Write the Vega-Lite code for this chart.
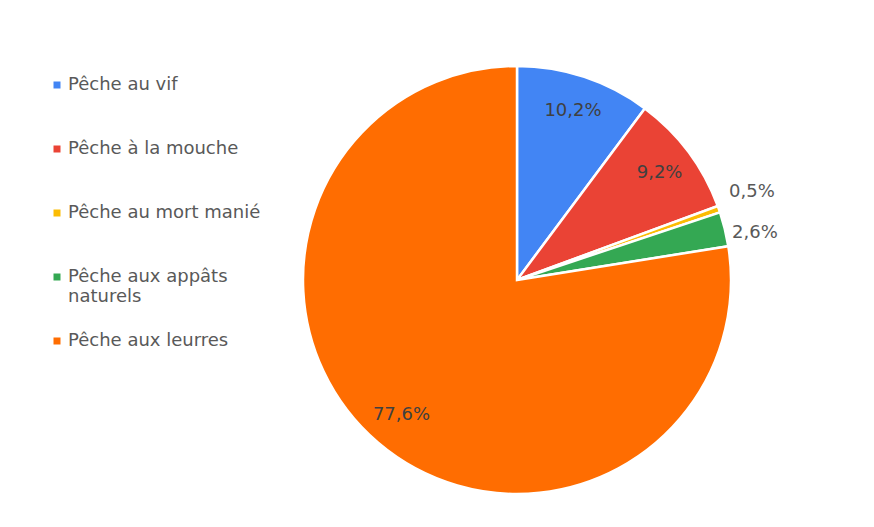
{
  "$schema": "https://vega.github.io/schema/vega-lite/v6.json",
  "width": 428,
  "height": 428,
  "autosize": "none",
  "padding": {"left": 303, "top": 66, "right": 143, "bottom": 33},
  "background": "white",
  "config": {"view": {"stroke": null}},
  "data": {
    "values": [
      {"categorie": "Pêche au vif", "value": 10.2, "label": "10,2%", "ordre": 1},
      {"categorie": "Pêche à la mouche", "value": 9.2, "label": "9,2%", "ordre": 2},
      {"categorie": "Pêche au mort manié", "value": 0.5, "label": "0,5%", "ordre": 3},
      {"categorie": "Pêche aux appâts naturels", "value": 2.6, "label": "2,6%", "ordre": 4},
      {"categorie": "Pêche aux leurres", "value": 77.6, "label": "77,6%", "ordre": 5}
    ]
  },
  "encoding": {
    "theta": {"field": "value", "type": "quantitative", "stack": true},
    "order": {"field": "ordre", "type": "quantitative"}
  },
  "layer": [
    {
      "mark": {"type": "arc", "outerRadius": 214, "stroke": "white", "strokeWidth": 2.5},
      "encoding": {
        "color": {
          "field": "categorie",
          "type": "nominal",
          "sort": null,
          "scale": {
            "domain": ["Pêche au vif", "Pêche à la mouche", "Pêche au mort manié", "Pêche aux appâts naturels", "Pêche aux leurres"],
            "range": ["#4285F4", "#EA4335", "#FBBC04", "#34A853", "#FF6D01"]
          },
          "legend": {
            "title": null,
            "orient": "none",
            "legendX": -255,
            "legendY": 10,
            "gridAlign": "all",
            "symbolType": "square",
            "symbolSize": 49,
            "symbolStrokeWidth": 0,
            "labelFont": "DejaVu Sans",
            "labelFontSize": 18,
            "labelColor": "#595959",
            "labelLimit": 300,
            "labelOffset": 2,
            "rowPadding": 26,
            "labelExpr": "datum.label == 'Pêche aux appâts naturels' ? ['Pêche aux appâts', 'naturels'] : datum.label"
          }
        }
      }
    },
    {
      "mark": {"type": "text", "radius": 178, "font": "DejaVu Sans", "fontSize": 18, "fill": "#404040"},
      "encoding": {
        "text": {"condition": {"test": "datum.value >= 5", "field": "label"}, "value": ""}
      }
    },
    {
      "mark": {"type": "text", "radius": 249, "dy": -6, "font": "DejaVu Sans", "fontSize": 18, "fill": "#595959"},
      "encoding": {
        "text": {"condition": {"test": "datum.value < 1", "field": "label"}, "value": ""}
      }
    },
    {
      "mark": {"type": "text", "radius": 245, "dy": 11, "font": "DejaVu Sans", "fontSize": 18, "fill": "#595959"},
      "encoding": {
        "text": {"condition": {"test": "datum.value >= 1 && datum.value < 5", "field": "label"}, "value": ""}
      }
    }
  ]
}
